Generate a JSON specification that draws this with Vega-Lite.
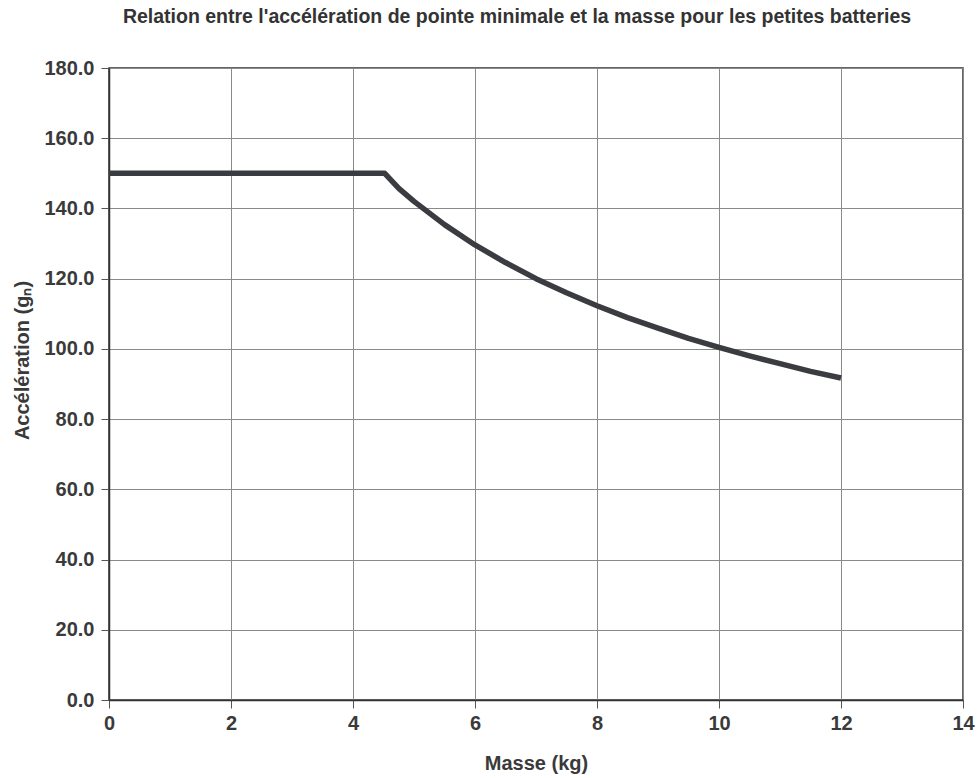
{
  "$schema": "https://vega.github.io/schema/vega-lite/v6.json",
  "autosize": {"type": "none"},
  "padding": {"left": 109, "top": 68, "right": 17, "bottom": 78},
  "width": 854,
  "height": 632,
  "background": "white",
  "title": {
    "text": "Relation entre l'accélération de pointe minimale et la masse pour les petites batteries",
    "font": "Liberation Sans",
    "fontSize": 19.5,
    "fontWeight": "bold",
    "color": "#333333",
    "anchor": "middle",
    "dx": -19,
    "offset": 31
  },
  "config": {
    "view": {"stroke": "#333333", "strokeWidth": 1.5},
    "axis": {
      "labelFont": "Liberation Sans",
      "labelFontSize": 20,
      "labelFontWeight": "bold",
      "labelColor": "#3a3a3a",
      "titleFont": "Liberation Sans",
      "titleFontSize": 20,
      "titleFontWeight": "bold",
      "titleColor": "#3a3a3a",
      "domainColor": "#333333",
      "domainWidth": 1.5,
      "tickColor": "#555555",
      "tickSize": 8,
      "gridColor": "#8a8a8a",
      "gridWidth": 1,
      "gridOpacity": 1
    }
  },
  "data": {
    "values": [
      {"masse": 0, "acc": 150},
      {"masse": 4.52, "acc": 150},
      {"masse": 4.75, "acc": 145.7},
      {"masse": 5, "acc": 142},
      {"masse": 5.5, "acc": 135.4},
      {"masse": 6, "acc": 129.6},
      {"masse": 6.5, "acc": 124.6},
      {"masse": 7, "acc": 120},
      {"masse": 7.5, "acc": 116},
      {"masse": 8, "acc": 112.3},
      {"masse": 8.5, "acc": 108.9},
      {"masse": 9, "acc": 105.9},
      {"masse": 9.5, "acc": 103},
      {"masse": 10, "acc": 100.4},
      {"masse": 10.5, "acc": 98},
      {"masse": 11, "acc": 95.8},
      {"masse": 11.5, "acc": 93.6},
      {"masse": 12, "acc": 91.7}
    ]
  },
  "mark": {"type": "line", "color": "#3a3c41", "strokeWidth": 5.5, "interpolate": "linear", "strokeCap": "butt", "strokeJoin": "round"},
  "encoding": {
    "x": {
      "field": "masse",
      "type": "quantitative",
      "scale": {"domain": [0, 14], "nice": false},
      "axis": {
        "title": "Masse (kg)",
        "values": [0, 2, 4, 6, 8, 10, 12, 14],
        "format": "d",
        "labelPadding": 5,
        "titlePadding": 20,
        "labelFlush": false
      }
    },
    "y": {
      "field": "acc",
      "type": "quantitative",
      "scale": {"domain": [0, 180], "nice": false},
      "axis": {
        "title": "Accélération (gₙ)",
        "values": [0, 20, 40, 60, 80, 100, 120, 140, 160, 180],
        "format": ".1f",
        "labelPadding": 7,
        "titlePadding": 11,
        "titleY": 292,
        "labelFlush": false
      }
    }
  }
}
